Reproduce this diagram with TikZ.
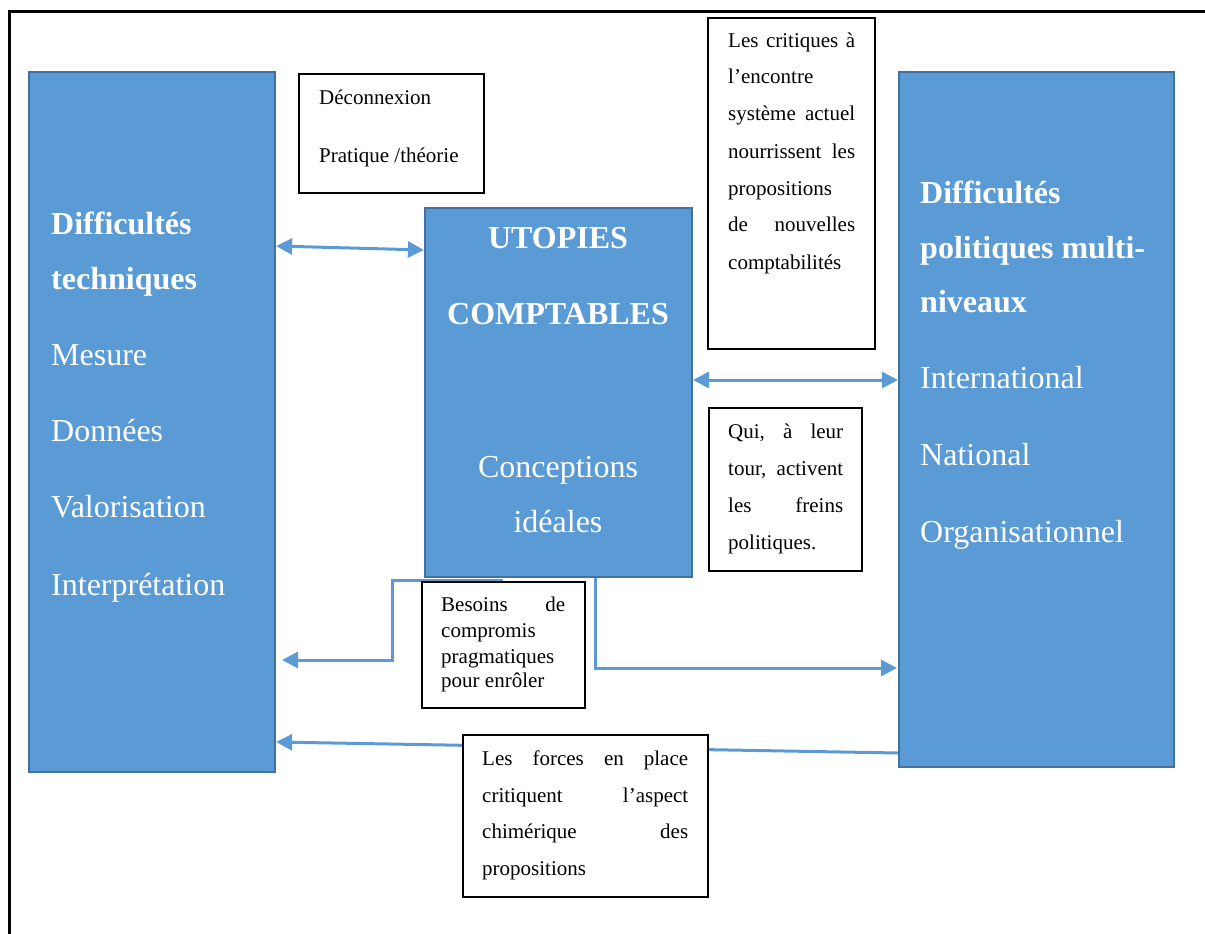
\documentclass[tikz,border=0pt]{standalone}
\usepackage{fontspec}
\setmainfont{Liberation Serif}
\usetikzlibrary{arrows.meta}
\definecolor{boxblue}{HTML}{5B9BD5}
\definecolor{boxedge}{HTML}{41719C}
\tikzset{
  tri/.tip={Triangle[length=16pt,width=16pt]},
  bluebox/.style={draw=boxedge,fill=boxblue,line width=2.2pt,inner sep=0pt},
  textbox/.style={draw=black,fill=white,line width=1.2pt,inner sep=0pt},
  big/.style={text=white,font=\fontsize{32}{38}\selectfont,anchor=base west,inner sep=0pt},
  bigb/.style={text=white,font=\fontsize{32}{38}\selectfont\bfseries,anchor=base west,inner sep=0pt},
  bigc/.style={text=white,font=\fontsize{32}{38}\selectfont,anchor=base,inner sep=0pt},
  bigcb/.style={text=white,font=\fontsize{32}{38}\selectfont\bfseries,anchor=base,inner sep=0pt},
  small/.style={font=\fontsize{21}{24}\selectfont,anchor=base west,inner sep=0pt},
  arr/.style={draw=boxblue,line width=3pt}
}
\begin{document}
\begin{tikzpicture}[x=1pt,y=-1pt]
\useasboundingbox (0,0) rectangle (1205,934);
% outer frame (cut by the page edge)
\draw[line width=3pt] (9,934) -- (9,12) -- (1205,12);

% main blue boxes
\node[bluebox,minimum width=246pt,minimum height=700pt] (L) at (152,422) {};
\node[bluebox,minimum width=267pt,minimum height=369pt] (C) at (558.5,392.5) {};
\node[bluebox,minimum width=275pt,minimum height=695pt] (R) at (1036.5,419.5) {};

% connectors
\coordinate (e1) at (282,660);
\coordinate (b1) at (392,660);
\coordinate (e2) at (897,668);
\draw[arr,tri-tri] (L.east |- 0,246) -- (C.west |- 0,250);
\draw[arr,tri-tri] (C.east |- 0,380) -- (R.west |- 0,380);
\draw[arr,-tri] ([xshift=-56pt,yshift=-2pt]C.south) -| (b1) -- (e1);
\draw[arr,-tri] ([xshift=36.5pt]C.south) |- (e2);
\draw[arr,-tri] (R.west |- 0,753) -- (L.east |- 0,742);

% white text boxes
\node[textbox,minimum width=185pt,minimum height=119pt] (D) at (391.5,133.5) {};
\node[textbox,minimum width=167pt,minimum height=331pt] (K) at (791.5,183.5) {};
\node[textbox,minimum width=153pt,minimum height=163pt] (Q) at (785.5,489.5) {};
\node[textbox,minimum width=163pt,minimum height=126pt] (B) at (503.5,645) {};
\node[textbox,minimum width=245pt,minimum height=162pt] (F) at (585.5,816) {};

% left box text
\node[bigb] (l1) at (51,234) {Difficultés};
\node[bigb] (l2) at (51,289) {techniques};
\node[big] (l3) at (51,365) {Mesure};
\node[big] (l4) at (51,441) {Données};
\node[big] (l5) at (51,517) {Valorisation};
\node[big] (l6) at (51,595) {Interprétation};

% center box text
\node[bigcb] (c1) at (558,248) {UTOPIES};
\node[bigcb] (c2) at (558,324) {COMPTABLES};
\node[bigc] (c3) at (558,477) {Conceptions};
\node[bigc] (c4) at (558,532) {idéales};

% right box text
\node[bigb] (r1) at (920,203) {Difficultés};
\node[bigb] (r2) at (920,258) {politiques multi-};
\node[bigb] (r3) at (920,312) {niveaux};
\node[big] (r4) at (920,388) {International};
\node[big] (r5) at (920,465) {National};
\node[big] (r6) at (920,542) {Organisationnel};

% Deconnexion box
\node[small] (d1) at (319,104) {Déconnexion};
\node[small] (d2) at (319,162) {Pratique /théorie};

% critiques box
\node[small] (k1) at (728,48) {\hbox to 127pt{Les\hfill critiques\hfill à}};
\node[small] (k2) at (728,84) {l’encontre};
\node[small] (k3) at (728,121) {\hbox to 127pt{système\hfill actuel}};
\node[small] (k4) at (728,158) {\hbox to 127pt{nourrissent\hfill les}};
\node[small] (k5) at (728,195) {propositions};
\node[small] (k6) at (728,231) {\hbox to 127pt{de\hfill nouvelles}};
\node[small] (k7) at (728,269) {comptabilités};

% Qui box
\node[small] (q1) at (728,438) {\hbox to 115pt{Qui,\hfill à\hfill leur}};
\node[small] (q2) at (728,475) {\hbox to 115pt{tour,\hfill activent}};
\node[small] (q3) at (728,512) {\hbox to 115pt{les\hfill freins}};
\node[small] (q4) at (728,549) {politiques.};

% Besoins box
\node[small] (s1) at (441,611) {\hbox to 124pt{Besoins\hfill de}};
\node[small] (s2) at (441,637) {compromis};
\node[small] (s3) at (441,663) {pragmatiques};
\node[small] (s4) at (441,687) {pour enrôler};

% forces box
\node[small] (f1) at (482,765) {\hbox to 206pt{Les\hfill forces\hfill en\hfill place}};
\node[small] (f2) at (482,802) {\hbox to 206pt{critiquent\hfill l’aspect}};
\node[small] (f3) at (482,838) {\hbox to 206pt{chimérique\hfill des}};
\node[small] (f4) at (482,875) {propositions};
\end{tikzpicture}
\end{document}
